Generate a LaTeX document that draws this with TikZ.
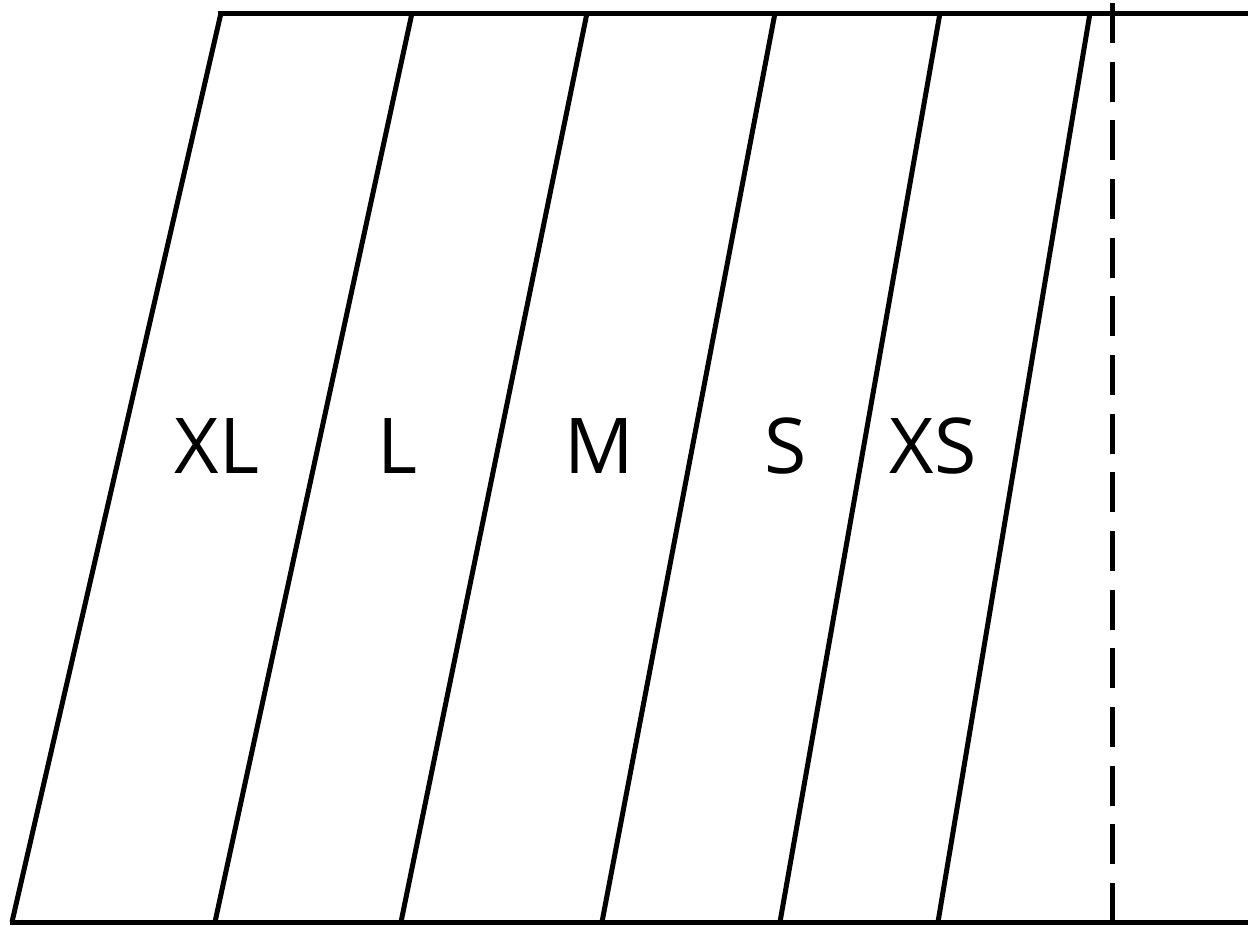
\documentclass[tikz,border=0pt]{standalone}
\usepackage{fontspec}
\setmainfont{Open Sans}
\begin{document}
\begin{tikzpicture}[x=1pt,y=-1pt,
  edge/.style={line width=5pt,line cap=butt},
  dashline/.style={line width=5pt,dash pattern=on 40pt off 18.67pt},
  lbl/.style={anchor=base,inner sep=0pt,font=\fontsize{77}{80}\selectfont}]
\useasboundingbox (0,0) rectangle (1248,926);
% coordinates
\coordinate (t0) at (218,13);
\coordinate (tE) at (1248,13);
\coordinate (b0) at (10,922);
\coordinate (bE) at (1248,922);
\coordinate (a1) at (221,13); \coordinate (z1) at (12,922);
\coordinate (a2) at (412,13); \coordinate (z2) at (215,922);
\coordinate (a3) at (587,13); \coordinate (z3) at (401,922);
\coordinate (a4) at (775,13); \coordinate (z4) at (602,922);
\coordinate (a5) at (940,13); \coordinate (z5) at (780,922);
\coordinate (a6) at (1090,13); \coordinate (z6) at (938,922);
\coordinate (d0) at (1112,3);
\coordinate (d1) at (1112,923);
% lines
\draw[edge] (t0) -- (tE);
\draw[edge] (b0) -- (bE);
\foreach \i in {1,...,6} {\draw[edge] (a\i) -- (z\i);}
\draw[dashline] (d0) -- (d1);
% labels
\node[lbl] (xl) at (217,473) {XL};
\node[lbl] (l) at (397,473) {L};
\node[lbl] (m) at (599,473) {M};
\node[lbl] (s) at (786,473) {S};
\node[lbl] (xs) at (933,473) {XS};
\end{tikzpicture}
\end{document}
